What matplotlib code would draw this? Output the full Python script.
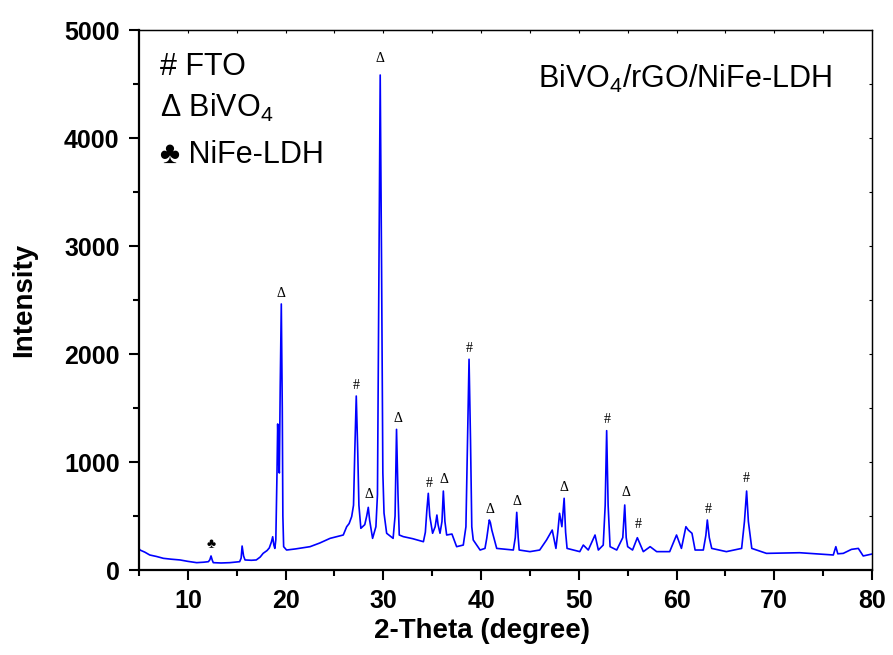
import matplotlib
matplotlib.use("Agg")
import matplotlib.pyplot as plt
from matplotlib.ticker import MultipleLocator

# ---- data ----
two_theta = [5.0, 5.1, 5.6, 6.1, 6.8, 7.5, 8.3, 9.2, 10.0, 10.9, 11.6, 12.1, 12.25, 12.37, 12.5,
             12.6, 13.4, 14.3, 15.3, 15.45, 15.55, 15.7, 15.85, 16.5, 17.0, 17.4, 17.7, 18.1, 18.33,
             18.55, 18.68, 18.8, 18.9, 19.0, 19.12, 19.19, 19.28, 19.36, 19.45, 19.56, 19.66, 19.72,
             19.8, 20.1, 21.0, 22.5, 23.5, 24.55, 25.3, 25.9, 26.25, 26.5, 26.76, 26.95, 27.08, 27.23,
             27.38, 27.5, 27.7, 28.1, 28.3, 28.46, 28.6, 28.9, 29.24, 29.4, 29.55, 29.68, 29.82, 29.95,
             30.07, 30.34, 31.0, 31.2, 31.35, 31.5, 31.63, 32.04, 33.0, 34.1, 34.3, 34.45, 34.6, 34.75,
             35.04, 35.3, 35.48, 35.6, 35.8, 36.0, 36.14, 36.3, 36.48, 37.02, 37.5, 38.18, 38.45, 38.62,
             38.77, 38.92, 39.05, 39.2, 39.9, 40.4, 40.58, 40.84, 40.95, 41.1, 41.6, 43.3, 43.5, 43.65,
             43.8, 43.9, 45.0, 46.0, 46.7, 47.28, 47.66, 47.85, 48.03, 48.27, 48.5, 48.65, 48.8, 50.1,
             50.46, 50.97, 51.66, 52.0, 52.5, 52.7, 52.85, 53.0, 53.2, 53.88, 54.5, 54.7, 54.85, 55.0,
             55.5, 55.99, 56.6, 57.3, 57.97, 59.3, 60.0, 60.5, 60.96, 61.2, 61.58, 61.9, 62.74, 63.0,
             63.15, 63.35, 63.6, 65.1, 66.66, 66.95, 67.17, 67.35, 67.7, 69.2, 72.6, 76.04, 76.3, 76.5,
             77.06, 77.9, 78.6, 79.1, 80.0]
intensity = [200, 185, 165, 139, 125, 108, 100, 93, 80, 68, 72, 77, 95, 130, 90,
             68, 65, 68, 77, 110, 222, 130, 93, 90, 93, 120, 154, 180, 204,
             260, 308, 230, 200, 280, 900, 1352, 1000, 898, 1700, 2463, 1500, 500,
             216, 185, 195, 216, 250, 293, 310, 324, 401, 430, 494, 600, 1100, 1611,
             1100, 600, 386, 420, 500, 580, 460, 293, 401, 700, 2800, 4583, 2800, 900,
             527, 340, 293, 500, 1302, 700, 324, 309, 290, 262, 350, 550, 710, 500,
             340, 400, 509, 420, 340, 450, 731, 450, 324, 333, 216, 231, 400, 1200,
             1951, 1200, 400, 278, 185, 200, 293, 463, 440, 370, 200, 185, 300, 534,
             300, 185, 170, 185, 278, 370, 200, 350, 525, 401, 664, 350, 200, 170,
             231, 185, 324, 185, 231, 600, 1290, 600, 216, 185, 300, 602, 300, 216,
             185, 299, 170, 216, 170, 170, 324, 200, 401, 370, 340, 185, 185, 320,
             463, 300, 200, 170, 200, 450, 731, 450, 200, 154, 160, 139, 216, 150,
             154, 191, 200, 130, 148]

# peak markers: position (2theta), label height, symbol
mark_x = [12.37, 19.53, 27.2, 28.5, 29.68, 31.45, 34.65, 36.2, 38.77, 40.95, 43.68, 48.45, 52.88, 54.78, 56.1, 63.2, 67.1]
mark_y = [170, 2500, 1650, 640, 4680, 1345, 740, 775, 1990, 500, 575, 705, 1335, 660, 360, 500, 790]
mark_s = ['♣', 'Δ', '#', 'Δ', 'Δ', 'Δ', '#', 'Δ', '#', 'Δ', 'Δ', 'Δ', '#', 'Δ', '#', '#', '#']

legend_lines = ['# FTO', 'Δ BiVO$_4$', '♣ NiFe-LDH']
sample_name = 'BiVO$_4$/rGO/NiFe-LDH'
xticks = [10, 20, 30, 40, 50, 60, 70, 80]
yticks = [0, 1000, 2000, 3000, 4000, 5000]

# ---- style ----
plt.rcParams['font.family'] = ['Liberation Sans', 'DejaVu Sans']
plt.rcParams['mathtext.fontset'] = 'custom'
plt.rcParams['mathtext.rm'] = 'Liberation Sans'
plt.rcParams['mathtext.it'] = 'Liberation Sans'

fig = plt.figure(figsize=(8.93, 6.55), dpi=100)
ax = fig.add_axes([139 / 893, 1 - 570 / 655, 733 / 893, 540 / 655])

ax.plot(two_theta, intensity, color='#0000ff', lw=1.2)

for xs, ys, s in zip(mark_x, mark_y, mark_s):
    ax.text(xs, ys, s, ha='center', va='bottom', fontsize=10,
            family=['Liberation Serif', 'DejaVu Sans'], color='black')

ax.set_xlim(5, 80)
ax.set_ylim(0, 5000)
ax.set_xticks(xticks)
ax.set_yticks(yticks)
ax.xaxis.set_minor_locator(MultipleLocator(5))
ax.yaxis.set_minor_locator(MultipleLocator(500))
ax.tick_params(which='major', direction='out', length=7, width=1.5, labelsize=18)
ax.tick_params(which='minor', direction='out', length=4, width=1.5)
ax.tick_params(axis='x', which='major', pad=7)
ax.tick_params(axis='y', which='major', pad=7)
for lab in ax.get_xticklabels() + ax.get_yticklabels():
    lab.set_fontweight('bold')

for sp in ['left', 'bottom']:
    ax.spines[sp].set_linewidth(1.6)
for sp in ['top', 'right']:
    ax.spines[sp].set_linewidth(0.9)

# tiny inward ticks on top and right
secx = ax.secondary_xaxis('top')
secx.set_xticks([10, 15, 20, 25, 30, 35, 40, 45, 50, 55, 60, 65, 70, 75])
secx.tick_params(direction='in', length=2, width=0.8, labeltop=False)
secx.spines['top'].set_linewidth(0.9)
secy = ax.secondary_yaxis('right')
secy.set_yticks([500, 1000, 1500, 2000, 2500, 3000, 3500, 4000, 4500])
secy.tick_params(direction='in', length=2, width=0.8, labelright=False)
secy.spines['right'].set_linewidth(0.9)

ax.set_xlabel('2-Theta (degree)', fontsize=20, fontweight='bold', labelpad=3, x=0.468)
ax.set_ylabel('Intensity', fontsize=20, fontweight='bold', labelpad=19)

legend_y = [0.917, 0.839, 0.754]
for t, yy in zip(legend_lines, legend_y):
    ax.text(0.028, yy, t, transform=ax.transAxes, fontsize=22, va='baseline', ha='left')
ax.text(0.544, 0.893, sample_name, transform=ax.transAxes, fontsize=22, va='baseline', ha='left')

fig.savefig('out.png', dpi=100)
